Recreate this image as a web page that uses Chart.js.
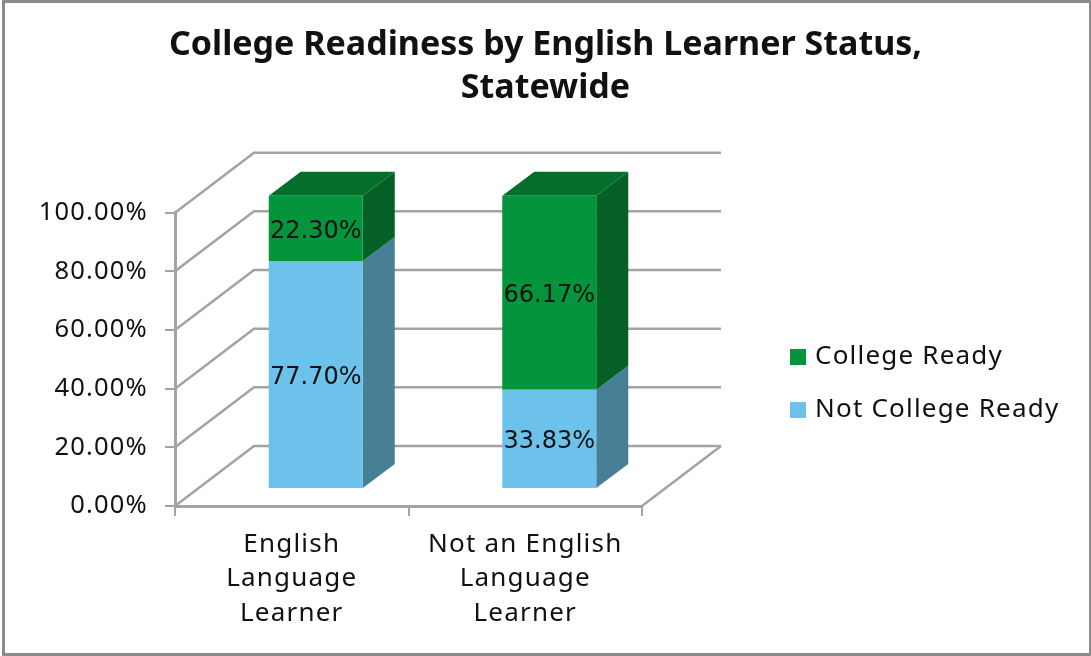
<!DOCTYPE html>
<html>
<head>
<meta charset="utf-8">
<title>College Readiness by English Learner Status, Statewide</title>
<script src="https://cdn.jsdelivr.net/npm/chart.js@4"></script>
<style>
    body { margin: 0; background: #fff; }
    #wrap { position: relative; width: 1091px; height: 656px; overflow: hidden; }
    #frame { position: absolute; left: 2px; top: 0; width: 1089px; height: 656px; box-sizing: border-box;
             border: 3px solid #8c8c8c; border-right-width: 2px; pointer-events: none; }
</style>
</head>
<body>
<div id="wrap">
    <canvas id="chart" width="1091" height="656"></canvas>
    <div id="frame"></div>
</div>
<script>
// Values
const categories = [['English', 'Language', 'Learner'], ['Not an English', 'Language', 'Learner']];
const notReadyValues = [77.70, 33.83];
const readyValues = [22.30, 66.17];
const seriesNames = ['Not College Ready', 'College Ready'];
const titleLines = ['College Readiness by English Learner Status,', 'Statewide'];

const frontColors = ['#6cc2ea', '#03943c'];
const sideColors = ['#477f97', '#056025'];
const topColors = ['#477f97', '#036f2b'];
const lineColor = '#a3a3a3';
const textColor = '#111';
const textFont = '"Noto Sans", sans-serif';

// Fake 3D depth, in pixels
const wallDx = 79, wallDy = -60;   // axis to back wall
const barDx = 24, barDy = -17;     // axis to bar front
const depthDx = 32, depthDy = -24; // bar front to bar back

// Walls, floor and grid lines behind the bars, plus the bar sides
const walls = {
    id: 'walls',
    afterInit(chart) {
        // only axis and legend text gets the extra spacing
        const title = chart.titleBlock, drawTitle = title.draw.bind(title);
        title.draw = () => {
            chart.ctx.save();
            chart.ctx.letterSpacing = '0px';
            drawTitle();
            chart.ctx.restore();
        };
    },
    beforeDraw(chart) {
        // reference text is spaced out more than Noto Sans
        chart.ctx.letterSpacing = '1.2px';
    },
    beforeDatasetsDraw(chart) {
        const ctx = chart.ctx, y = chart.scales.y, a = chart.chartArea;
        ctx.save();
        ctx.strokeStyle = lineColor;
        ctx.lineWidth = 2.5;
        y.ticks.forEach(t => {
            const py = y.getPixelForValue(t.value);
            ctx.beginPath();
            ctx.moveTo(a.left, py);
            ctx.lineTo(a.left + wallDx, py + wallDy);
            ctx.lineTo(a.right + wallDx, py + wallDy);
            ctx.stroke();
        });
        ctx.beginPath();
        ctx.moveTo(a.right, a.bottom);
        ctx.lineTo(a.right + wallDx, a.bottom + wallDy);
        ctx.stroke();

        chart.data.datasets.forEach((ds, i) => {
            chart.getDatasetMeta(i).data.forEach(bar => {
                const r = bar.x + bar.width / 2 + barDx, l = bar.x - bar.width / 2 + barDx;
                const t = bar.y + barDy, b = bar.base + barDy;
                ctx.fillStyle = sideColors[i];
                ctx.beginPath();
                ctx.moveTo(r, t);
                ctx.lineTo(r + depthDx, t + depthDy);
                ctx.lineTo(r + depthDx, b + depthDy);
                ctx.lineTo(r, b);
                ctx.closePath();
                ctx.fill();
                if (i === chart.data.datasets.length - 1) {
                    ctx.fillStyle = topColors[i];
                    ctx.beginPath();
                    ctx.moveTo(l, t);
                    ctx.lineTo(l + depthDx, t + depthDy);
                    ctx.lineTo(r + depthDx, t + depthDy);
                    ctx.lineTo(r, t);
                    ctx.closePath();
                    ctx.fill();
                }
            });
        });
        ctx.restore();
        // Bars themselves are moved onto the floor
        ctx.save();
        ctx.translate(barDx, barDy);
    },
    afterDatasetsDraw(chart) {
        const ctx = chart.ctx;
        ctx.restore();
        // Value labels
        ctx.save();
        ctx.letterSpacing = '0px';
        ctx.font = '24px "DejaVu Sans", sans-serif';
        ctx.fillStyle = textColor;
        ctx.textAlign = 'center';
        ctx.textBaseline = 'middle';
        chart.data.datasets.forEach((ds, i) => {
            chart.getDatasetMeta(i).data.forEach((bar, j) => {
                const py = (bar.y + bar.base) / 2 + barDy;
                ctx.fillText(ds.data[j].toFixed(2) + '%', bar.x + barDx, py + 3);
            });
        });
        ctx.restore();
    },
    // Legend has no absolute position option and the title should centre on the
    // whole canvas, so move them here
    afterLayout(chart) {
        const lg = chart.legend;
        lg.left = 767;
        lg.right = 1085;
        lg.top = 317;
        lg.bottom = 450;
        chart.titleBlock.left = 0;
        chart.titleBlock.right = 1091;
    }
};

new Chart(document.getElementById('chart'), {
    type: 'bar',
    plugins: [walls],
    data: {
        labels: categories,
        datasets: [
            { label: seriesNames[0], data: notReadyValues, backgroundColor: frontColors[0] },
            { label: seriesNames[1], data: readyValues, backgroundColor: frontColors[1] }
        ]
    },
    options: {
        responsive: false,
        animation: false,
        layout: { padding: { left: 40, right: 449, top: 0, bottom: 0 } },
        datasets: { bar: { categoryPercentage: 0.4026, barPercentage: 1 } },
        plugins: {
            tooltip: { enabled: false },
            title: {
                display: true,
                text: titleLines,
                color: textColor,
                font: { family: textFont, size: 34, weight: 'bold', lineHeight: 1.26 },
                padding: { top: 24, bottom: 103 }
            },
            legend: {
                position: 'chartArea',
                align: 'start',
                reverse: true,
                labels: {
                    color: textColor,
                    font: { family: textFont, size: 26 },
                    usePointStyle: true,
                    pointStyle: 'rect',
                    boxWidth: 8,
                    boxHeight: 16,
                    padding: 27
                }
            }
        },
        scales: {
            x: {
                stacked: true,
                afterFit(scale) { scale.height = 150; },
                border: { color: lineColor, width: 3 },
                grid: { drawOnChartArea: false, color: lineColor, lineWidth: 2, tickLength: 10 },
                ticks: {
                    color: textColor,
                    font: { family: textFont, size: 26, lineHeight: 1.33 },
                    maxRotation: 0,
                    autoSkip: false,
                    padding: 11
                }
            },
            y: {
                stacked: true,
                min: 0,
                max: 100,
                afterFit(scale) { scale.width = 135; },
                border: { color: lineColor, width: 3 },
                grid: { drawOnChartArea: false, color: lineColor, lineWidth: 2, tickLength: 10 },
                ticks: {
                    stepSize: 20,
                    color: textColor,
                    font: { family: textFont, size: 25.5 },
                    padding: 17,
                    callback: v => v.toFixed(2) + '%'
                }
            }
        }
    }
});
</script>
</body>
</html>
